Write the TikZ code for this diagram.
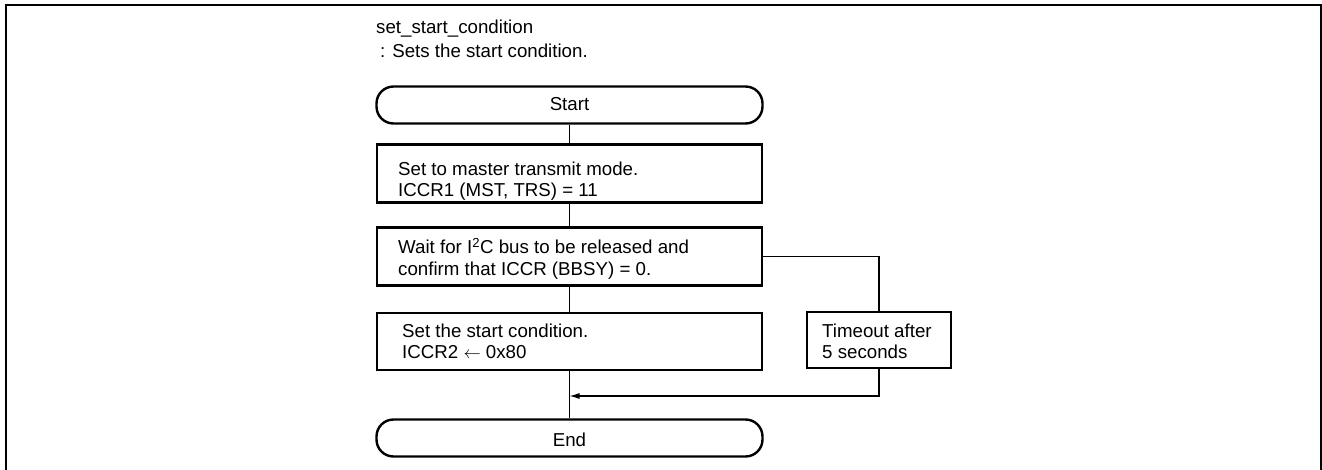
\documentclass[tikz,border=0pt]{standalone}
\usepackage{fontspec}
\setmainfont{Liberation Sans}
\usetikzlibrary{arrows.meta}
\begin{document}
\begin{tikzpicture}[x=1pt,y=-1pt,
  every node/.style={font=\fontsize{18.7}{21.8}\selectfont},
  term/.style={draw,line width=2.4pt,rounded corners=17pt,
    minimum width=386pt,minimum height=37pt,inner sep=0pt},
  proc/.style={draw,line width=2.4pt,inner sep=0pt},
  link/.style={line width=1.1pt},
  lbl/.style={anchor=base west,inner sep=0pt,align=left}]
  \useasboundingbox (0,0) rectangle (1322,469);
  % open frame around the chart
  \draw[line width=2pt] (6,480) -- (6,5) -- (1320.8,5) -- (1320.8,480);
  % heading
  \node[lbl] (title) at (376,33) {set\_start\_condition};
  \node[lbl] (desc) at (380,57) {: Sets the start condition.};
  % main column (two-line labels are placed by the baseline of their last line)
  \node[term] (start) at (569.5,105) {};
  \node[anchor=base,inner sep=0pt] (startt) at (569.5,110) {Start};
  \node[proc,minimum width=385pt,minimum height=58pt] (b1) at (569.5,173.5) {};
  \node[lbl] (b1t) at (398,196.8) {Set to master transmit mode.\\ICCR1 (MST, TRS) = 11};
  \node[proc,minimum width=385pt,minimum height=58pt] (b2) at (569.5,256.5) {};
  \node[lbl] (b2t) at (398,275.3)
    {Wait for I\textsuperscript{2}C bus to be released and\\confirm that ICCR (BBSY) = 0.};
  \node[proc,minimum width=385pt,minimum height=57pt] (b3) at (569.5,341.5) {};
  \node[lbl] (b3t) at (402,358.8) {Set the start condition.\\ICCR2 $\leftarrow$ 0x80};
  \node[term] (end) at (569.5,438) {};
  \node[anchor=base,inner sep=0pt] (endt) at (569.5,446) {End};
  % timeout branch
  \node[proc,minimum width=144pt,minimum height=56pt] (to) at (879,340) {};
  \node[lbl] (tot) at (822,358.8) {Timeout after\\5 seconds};
  \coordinate (join) at (569.5,396);
  % connectors
  \draw[link] (start) -- (b1);
  \draw[link] (b1) -- (b2);
  \draw[link] (b2) -- (b3);
  \draw[link] (b3) -- (end);
  \draw[link] (b2.east) -| (to.north);
  \draw[link,-{Latex[length=10pt,width=6pt]}] (to.south) |- (join);
\end{tikzpicture}
\end{document}
